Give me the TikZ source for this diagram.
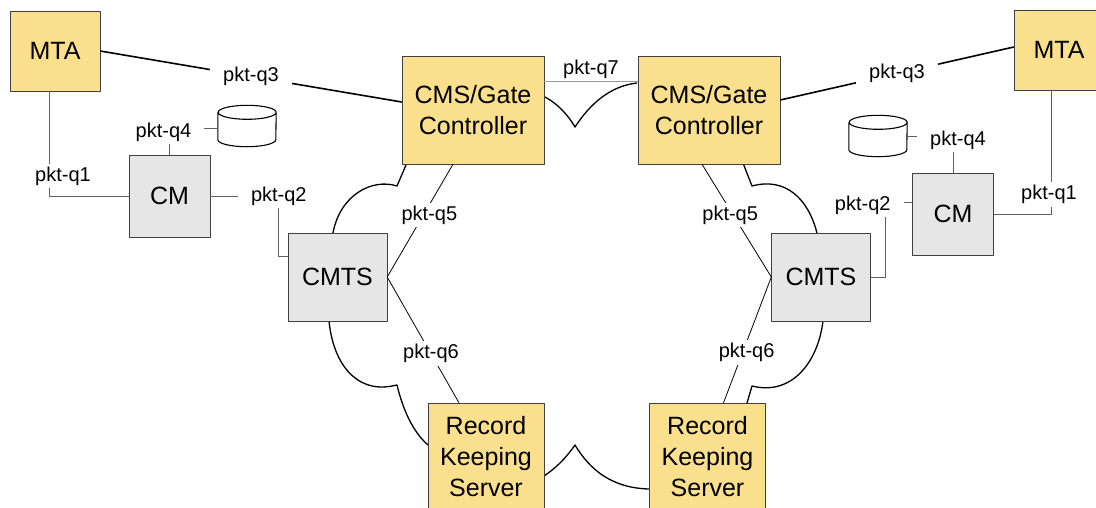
\documentclass[tikz,border=0pt]{standalone}
\usepackage{fontspec}
\setmainfont{Liberation Sans}
\definecolor{boxyellow}{RGB}{250,224,140}
\definecolor{boxgrey}{RGB}{230,230,230}
\definecolor{wiregrey}{RGB}{95,95,95}

\begin{document}
\begin{tikzpicture}[x=1pt,y=-1pt,line join=round,yellow node/.style={draw=black!75,fill=boxyellow,align=center,inner sep=0pt,font=\fontsize{25}{31}\selectfont},grey node/.style={draw=black!75,fill=boxgrey,align=center,inner sep=0pt,font=\fontsize{25}{31}\selectfont},db node/.style={inner sep=0pt,minimum width=58pt,minimum height=41pt},pkt label/.style={fill=white,text=black,inner xsep=13pt,inner ysep=3pt,font=\fontsize{20}{22}\selectfont},thin wire/.style={draw=wiregrey,line width=0.9pt},cloud line/.style={line width=1.3pt}]
                        \useasboundingbox (0,0) rectangle (1096,507);

                        \draw[cloud line] (545,97) .. controls (558,104) and (568,115) .. (575,127) .. controls (590,104) and (610,86) .. (637,83);
                        \draw[cloud line] (406,165) -- (397,186) .. controls (372,178) and (340,195) .. (333,233);
                        \draw[cloud line] (329,321) .. controls (333,362) and (355,393) .. (392,386) -- (397,385) .. controls (403,410) and (413,432) .. (428,445);
                        \draw[cloud line] (544,476) .. controls (556,468) and (566,458) .. (575,445) .. controls (590,470) and (612,488) .. (649,489);
                        \draw[cloud line] (747,403) -- (752,386) .. controls (792,396) and (818,362) .. (823,321);
                        \draw[cloud line] (817,233) .. controls (808,198) and (785,177) .. (752,186) -- (743,163);

                        \node[yellow node,minimum width=90pt,minimum height=80pt] (mtaL) at (55,51) {MTA};
                        \node[yellow node,minimum width=142pt,minimum height=108pt] (cmsL) at (473,110) {CMS/Gate\\Controller};
                        \node[yellow node,minimum width=142pt,minimum height=108pt] (cmsR) [right of=cmsL,node distance=236pt] {CMS/Gate\\Controller};
                        \node[yellow node,minimum width=90pt,minimum height=80pt] (mtaR) at (1059,50) {MTA};
                        \node[grey node,minimum width=81pt,minimum height=82pt] (cmL) at (169.5,196) {CM};
                        \node[grey node,minimum width=81pt,minimum height=82pt] (cmR) at (953,214) {CM};
                        \node[grey node,minimum width=99pt,minimum height=88pt] (cmtsL) at (337.5,277) {CMTS};
                        \node[grey node,minimum width=99pt,minimum height=88pt] (cmtsR) [right of=cmtsL,node distance=483.5pt] {CMTS};
                        \node[yellow node,minimum width=116pt,minimum height=108pt] (rksL) at (486,457) {Record\\Keeping\\Server};
                        \node[yellow node,minimum width=116pt,minimum height=108pt] (rksR) [right of=rksL,node distance=221.5pt] {Record\\Keeping\\Server};
                        \node[db node] (dbL) at (247,126) {};
                        \node[db node] (dbR) at (878,136) {};
                        \coordinate (q2L) at ([xshift=-9pt,yshift=21pt]cmtsL.west);
                        \coordinate (q2R) at ([xshift=15pt]cmtsR.east);

                        \foreach \db in {dbL,dbR}
                            \draw[line width=1.1pt,fill=white] ([yshift=-7pt]\db.north west) -- ([yshift=7pt]\db.south west) arc[start angle=180,end angle=360,x radius=29pt,y radius=7pt] -- ([yshift=-7pt]\db.north east) arc[start angle=0,end angle=360,x radius=29pt,y radius=7pt];

                        \path[line width=1.6pt]
                            (mtaL.east) edge node[pkt label]{pkt-q3} ([yshift=8pt]cmsL.west)
                            ([yshift=10pt]cmsR.east) edge node[pkt label]{pkt-q3} ([yshift=3pt]mtaR.west)
                        ;

                        \path[color=black!40,line width=0.8pt]
                            ([yshift=29pt]cmsL.east) edge node[pkt label,fill=none,above,inner ysep=2pt]{pkt-q7} ([yshift=29pt]cmsL.east -| cmsR.west)
                        ;

                        \path[line width=0.8pt]
                            ([xshift=-20pt]cmsL.south) edge node[pkt label,pos=0.45,xshift=6pt]{pkt-q5} (cmtsL.east)
                            (cmtsL.east) edge node[pkt label,pos=0.61]{pkt-q6} ([xshift=-27pt]rksL.north)
                            ([xshift=-7pt]cmsR.south) edge node[pkt label,pos=0.45,xshift=-3pt]{pkt-q5} (cmtsR.west)
                            (cmtsR.west) edge node[pkt label,pos=0.6,xshift=4pt]{pkt-q6} ([xshift=16pt]rksR.north)
                        ;

                        \draw[thin wire] ([xshift=-6pt]mtaL.south) |- node[pkt label,pos=0.405,xshift=14pt]{pkt-q1} (cmL.west);
                        \draw[thin wire] ([xshift=-8pt]mtaR.south) |- node[pkt label,pos=0.42,xshift=-2pt]{pkt-q1} (cmR.east);
                        \draw[thin wire] (cmL.north) |- node[pkt label,xshift=-6pt,yshift=-4pt]{pkt-q4} ([yshift=-2pt]dbL.west);
                        \draw[thin wire] (cmR.north) |- node[pkt label,xshift=5pt,yshift=-4pt]{pkt-q4} (dbR.east);
                        \draw[thin wire] (cmL.east) -| node[pkt label]{pkt-q2} (q2L) -- (q2L -| cmtsL.west);
                        \draw[thin wire] ([yshift=12pt]cmR.west) -| node[pkt label,xshift=-23pt,yshift=-3pt]{pkt-q2} (q2R) -- (cmtsR.east);

                    \end{tikzpicture}
\end{document}
